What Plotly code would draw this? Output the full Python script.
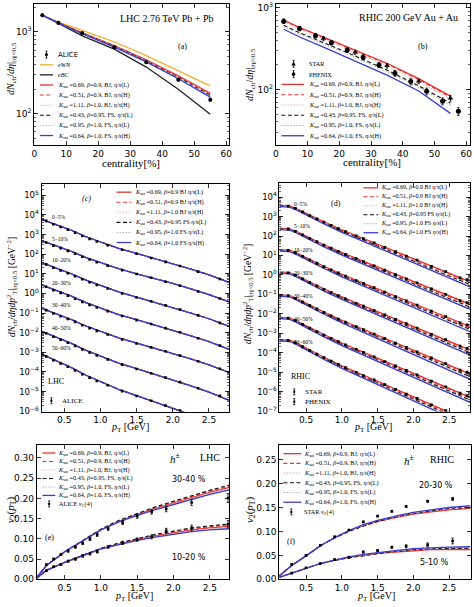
import numpy as np
import plotly.graph_objects as go

W, H = 474, 607
SERIF = "Liberation Serif"
SANS = "DejaVu Sans"

# ====================== DATA ======================
# ---- (a) LHC 2.76 TeV Pb+Pb, dNch/deta vs centrality ----
cent_lines = [2.5, 7.5, 15, 25, 35, 45, 55]
alice_cent = [2.5, 7.5, 15, 25, 35, 45, 55]
alice_dndeta = [1601, 1294, 966, 649, 426, 261, 149]
alice_dndeta_err = [60, 49, 37, 23, 15, 9, 6]
lhc_eWN = [1610, 1320, 1045, 758, 513, 339, 219]
lhc_eBC = [1610, 1270, 895, 617, 372, 200, 99]
lhc_mult_M1 = [1610, 1300, 975, 680, 455, 290, 178]
lhc_mult_M2 = [1610, 1300, 970, 675, 450, 287, 175]
lhc_mult_M3 = [1600, 1290, 965, 670, 445, 282, 172]
lhc_mult_M4 = [1600, 1290, 960, 665, 440, 278, 168]
lhc_mult_M5 = [1600, 1285, 955, 660, 437, 275, 165]
lhc_mult_M6 = [1595, 1280, 950, 652, 430, 268, 160]

# ---- (b) RHIC 200 GeV Au+Au ----
star_cent = [2.5, 7.5, 15, 25, 35, 45, 55]
star_dndeta = [691, 558, 421, 287, 195, 126, 78]
star_err = [40, 33, 25, 17, 12, 8, 6]
phenix_cent = [2.5, 7.5, 12.5, 17.5, 22.5, 27.5, 32.5, 37.5, 42.5, 47.5, 52.5, 57.5]
phenix_dndeta = [687, 560, 456, 375, 305, 248, 200, 158, 125, 95, 72, 54]
phenix_err = [37, 32, 27, 24, 21, 18, 15, 13, 11, 9, 7, 6]
rhic_mult_M1 = [708, 575, 440, 305, 210, 136, 83]
rhic_mult_M2 = [700, 568, 434, 300, 206, 133, 80]
rhic_mult_M3 = [680, 548, 418, 288, 196, 126, 76]
rhic_mult_M4 = [611, 495, 375, 258, 173, 111, 68]
rhic_mult_M5 = [590, 478, 362, 248, 166, 106, 64]
rhic_mult_M6 = [547, 440, 330, 225, 150, 96, 51]

# ---- tick labels ----
mult_tickvals = [100, 1000]
mult_ticktext = ["10<sup>2</sup>", "10<sup>3</sup>"]
lhc_spec_exponents = [5, 4, 3, 2, 1, 0, -1, -2, -3, -4, -5, -6]
rhic_spec_exponents = [4, 3, 2, 1, 0, -1, -2, -3, -4, -5, -6, -7]

# ---- (c) LHC pT spectra (log10 values) ----
centrality_labels = ["0\u22125%", "5\u221210%", "10\u221220%", "20\u221230%", "30\u221240%", "40\u221250%", "50\u221260%"]
lhc_spec_pt = [0.19, 0.3, 0.4, 0.5, 0.6, 0.8, 1.0, 1.25, 1.5, 1.75, 2.0, 2.25, 2.5, 2.78]
lhc_spec_0_5 = [3.78, 3.64, 3.49, 3.36, 3.22, 2.89, 2.62, 2.30, 2.04, 1.78, 1.53, 1.24, 0.95, 0.56]
lhc_spec_5_10 = [2.69, 2.55, 2.41, 2.28, 2.14, 1.83, 1.57, 1.26, 1.00, 0.76, 0.51, 0.23, -0.06, -0.43]
lhc_spec_10_20 = [1.57, 1.42, 1.28, 1.15, 1.00, 0.68, 0.40, 0.08, -0.19, -0.45, -0.71, -1.00, -1.29, -1.68]
lhc_spec_20_30 = [0.43, 0.28, 0.14, 0.00, -0.14, -0.47, -0.75, -1.08, -1.34, -1.60, -1.87, -2.16, -2.46, -2.85]
lhc_spec_30_40 = [-0.76, -0.91, -1.05, -1.19, -1.33, -1.66, -1.94, -2.26, -2.53, -2.79, -3.05, -3.34, -3.64, -4.03]
lhc_spec_40_50 = [-1.93, -2.09, -2.25, -2.39, -2.55, -2.90, -3.20, -3.55, -3.83, -4.11, -4.39, -4.71, -5.03, -5.45]
lhc_spec_50_60 = [-3.10, -3.28, -3.45, -3.61, -3.78, -4.17, -4.50, -4.89, -5.21, -5.52, -5.83, -6.18, -6.53, -7.00]

alice_spec_pt = [0.25, 0.35, 0.45, 0.55, 0.65, 0.75, 0.85, 0.95, 1.1, 1.3, 1.5, 1.7, 1.9, 2.1, 2.35, 2.65]
alice_spec_0_5 = [3.70, 3.53, 3.39, 3.25, 3.10, 2.93, 2.78, 2.65, 2.46, 2.23, 2.02, 1.81, 1.61, 1.40, 1.11, 0.74]
alice_spec_5_10 = [2.60, 2.44, 2.31, 2.17, 2.03, 1.87, 1.73, 1.59, 1.42, 1.19, 0.99, 0.80, 0.60, 0.39, 0.10, -0.26]
alice_spec_10_20 = [1.48, 1.31, 1.17, 1.03, 0.88, 0.72, 0.57, 0.43, 0.25, 0.00, -0.21, -0.40, -0.61, -0.82, -1.12, -1.50]
alice_spec_20_30 = [0.34, 0.17, 0.03, -0.11, -0.27, -0.43, -0.58, -0.72, -0.90, -1.15, -1.36, -1.56, -1.77, -1.98, -2.28, -2.66]
alice_spec_30_40 = [-0.85, -1.02, -1.16, -1.30, -1.45, -1.62, -1.77, -1.91, -2.09, -2.34, -2.55, -2.75, -2.95, -3.17, -3.46, -3.84]
alice_spec_40_50 = [-2.03, -2.21, -2.36, -2.51, -2.67, -2.85, -3.01, -3.16, -3.36, -3.63, -3.85, -4.07, -4.29, -4.52, -4.83, -5.22]
alice_spec_50_60 = [-3.21, -3.40, -3.57, -3.74, -3.92, -4.12, -4.29, -4.46, -4.68, -4.98, -5.23, -5.47, -5.72, -5.97, -6.32, -6.78]

# ---- (d) RHIC pT spectra (log10 values, K_sat=0.69 BJ curve; other models as read-off shifts) ----
rhic_spec_pt = [0.13, 0.2, 0.27, 0.35, 0.5, 0.75, 1.0, 1.25, 1.5, 1.75, 2.0, 2.25, 2.5, 2.79]
rhic_spec_0_5 = [3.58, 3.58, 3.55, 3.44, 3.16, 2.73, 2.32, 1.95, 1.58, 1.21, 0.84, 0.46, 0.08, -0.34]
rhic_spec_5_10 = [2.40, 2.40, 2.37, 2.26, 1.98, 1.55, 1.15, 0.78, 0.41, 0.04, -0.33, -0.70, -1.08, -1.50]
rhic_spec_10_20 = [1.30, 1.30, 1.27, 1.16, 0.88, 0.44, 0.03, -0.34, -0.72, -1.09, -1.46, -1.84, -2.23, -2.65]
rhic_spec_20_30 = [0.15, 0.15, 0.12, 0.01, -0.28, -0.72, -1.13, -1.51, -1.89, -2.27, -2.65, -3.03, -3.42, -3.85]
rhic_spec_30_40 = [-1.03, -1.03, -1.06, -1.18, -1.46, -1.91, -2.33, -2.72, -3.10, -3.48, -3.86, -4.25, -4.65, -5.08]
rhic_spec_40_50 = [-2.18, -2.18, -2.21, -2.33, -2.62, -3.07, -3.50, -3.89, -4.27, -4.66, -5.05, -5.44, -5.84, -6.28]
rhic_spec_50_60 = [-3.32, -3.32, -3.35, -3.47, -3.77, -4.23, -4.67, -5.07, -5.46, -5.86, -6.26, -6.66, -7.07, -7.52]
rhic_shift_M1 = [0.00] * 14
rhic_shift_M2 = [-0.01, -0.01, -0.01, -0.01, -0.02, -0.02, -0.03, -0.03, -0.04, -0.04, -0.05, -0.05, -0.06, -0.06]
rhic_shift_M3 = [-0.02, -0.02, -0.02, -0.03, -0.03, -0.04, -0.05, -0.06, -0.07, -0.08, -0.09, -0.10, -0.11, -0.12]
rhic_shift_M4 = [-0.03, -0.03, -0.03, -0.04, -0.05, -0.06, -0.07, -0.09, -0.10, -0.11, -0.12, -0.13, -0.14, -0.15]
rhic_shift_M5 = [-0.05, -0.05, -0.05, -0.06, -0.07, -0.08, -0.10, -0.12, -0.14, -0.16, -0.18, -0.19, -0.20, -0.22]
rhic_shift_M6 = [-0.07, -0.07, -0.07, -0.08, -0.09, -0.11, -0.13, -0.15, -0.17, -0.19, -0.21, -0.23, -0.25, -0.27]

star_spec_pt = [0.25, 0.45, 0.65, 0.85, 1.05, 1.3, 1.6, 1.9, 2.25, 2.65]
star_spec_0_5 = [3.54, 3.24, 2.88, 2.55, 2.23, 1.86, 1.41, 0.97, 0.44, -0.15]
star_spec_5_10 = [2.36, 2.06, 1.71, 1.37, 1.05, 0.68, 0.24, -0.20, -0.72, -1.32]
star_spec_10_20 = [1.26, 0.95, 0.60, 0.26, -0.06, -0.44, -0.88, -1.33, -1.86, -2.46]
star_spec_20_30 = [0.11, -0.20, -0.56, -0.91, -1.23, -1.61, -2.06, -2.51, -3.05, -3.66]
star_spec_30_40 = [-1.07, -1.39, -1.75, -2.10, -2.43, -2.81, -3.27, -3.73, -4.27, -4.89]
star_spec_40_50 = [-2.22, -2.54, -2.91, -3.26, -3.59, -3.98, -4.45, -4.91, -5.46, -6.08]
star_spec_50_60 = [-3.36, -3.69, -4.07, -4.43, -4.77, -5.17, -5.64, -6.12, -6.68, -7.32]
phenix_spec_pt = [0.35, 0.55, 0.75, 0.95, 1.2, 1.45, 1.75, 2.05, 2.45, 2.75]
phenix_spec_0_5 = [3.42, 3.05, 2.71, 2.38, 2.00, 1.64, 1.19, 0.76, 0.17, -0.24]
phenix_spec_5_10 = [2.24, 1.88, 1.53, 1.21, 0.83, 0.47, 0.02, -0.41, -1.00, -1.42]
phenix_spec_10_20 = [1.14, 0.77, 0.42, 0.10, -0.29, -0.66, -1.11, -1.55, -2.14, -2.57]
phenix_spec_20_30 = [-0.01, -0.39, -0.74, -1.07, -1.46, -1.83, -2.29, -2.74, -3.33, -3.77]
phenix_spec_30_40 = [-1.20, -1.57, -1.93, -2.27, -2.66, -3.04, -3.50, -3.96, -4.56, -5.00]
phenix_spec_40_50 = [-2.35, -2.73, -3.09, -3.43, -3.83, -4.21, -4.68, -5.14, -5.75, -6.20]
phenix_spec_50_60 = [-3.49, -3.88, -4.25, -4.60, -5.01, -5.40, -5.88, -6.35, -6.98, -7.44]

# ---- (e) LHC v2(pT) ----
lhc_v2_pt = [0.12, 0.25, 0.5, 0.75, 1.0, 1.25, 1.5, 1.75, 2.0, 2.25, 2.5, 2.77]
lhc_v2_30_40 = [0.005, 0.034, 0.067, 0.095, 0.122, 0.143, 0.160, 0.175, 0.189, 0.202, 0.215, 0.227]
lhc_v2_10_20 = [0.003, 0.022, 0.041, 0.058, 0.075, 0.087, 0.098, 0.107, 0.115, 0.122, 0.127, 0.131]
lhc_v2_shift_M1 = [0.0] * 12
lhc_v2_shift_M2 = [0, 0, 0, 0, 0, 0.001, 0.001, 0.001, 0.002, 0.002, 0.003, 0.003]
lhc_v2_shift_M3 = [0, 0, 0, 0, 0, 0, -0.001, -0.001, -0.002, -0.002, -0.002, -0.003]
lhc_v2_shift_M4 = [0, 0, 0.001, 0.002, 0.002, 0.003, 0.003, 0.004, 0.004, 0.005, 0.005, 0.006]
lhc_v2_shift_M5 = [0, 0, 0, 0, -0.001, -0.001, -0.002, -0.002, -0.003, -0.003, -0.004, -0.004]
lhc_v2_shift_M6 = [0, 0, 0.001, 0.001, 0, -0.001, -0.002, -0.003, -0.004, -0.004, -0.005, -0.006]
alice_v2_pt = [0.25, 0.35, 0.45, 0.55, 0.65, 0.75, 0.85, 0.95, 1.1, 1.3, 1.5, 1.7, 1.9, 2.25, 2.75]
alice_v2_30_40 = [0.036, 0.050, 0.061, 0.070, 0.080, 0.089, 0.100, 0.110, 0.125, 0.140, 0.156, 0.167, 0.174, 0.190, 0.201]
alice_v2_30_40_err = [0.002, 0.002, 0.002, 0.003, 0.003, 0.003, 0.004, 0.004, 0.004, 0.005, 0.005, 0.006, 0.007, 0.008, 0.011]
alice_v2_10_20 = [0.021, 0.031, 0.037, 0.045, 0.050, 0.058, 0.063, 0.068, 0.080, 0.090, 0.098, 0.105, 0.120, 0.127, 0.136]
alice_v2_10_20_err = [0.002, 0.002, 0.002, 0.002, 0.003, 0.003, 0.003, 0.003, 0.003, 0.004, 0.004, 0.005, 0.006, 0.007, 0.009]

# ---- (f) RHIC v2(pT) ----
rhic_v2_pt = [0.124, 0.3, 0.5, 0.7, 0.9, 1.1, 1.3, 1.5, 1.75, 2.0, 2.25, 2.5, 2.8]
rhic_v2_20_30 = [0.007, 0.029, 0.049, 0.070, 0.087, 0.101, 0.112, 0.121, 0.129, 0.136, 0.141, 0.145, 0.148]
rhic_v2_5_10 = [0.004, 0.013, 0.023, 0.033, 0.040, 0.046, 0.050, 0.054, 0.057, 0.060, 0.062, 0.062, 0.062]
rhic_v2_shift_M1 = [0.0] * 13
rhic_v2_shift_M2 = [0, 0, 0, 0, 0, 0, 0, 0, 0.001, 0.001, 0.001, 0.001, 0.001]
rhic_v2_shift_M3 = [0, 0, 0, 0, 0, 0, 0, 0.001, 0.001, 0.002, 0.002, 0.002, 0.003]
rhic_v2_shift_M4 = [0, 0, 0, 0, -0.001, -0.001, -0.001, 0, 0.001, 0.002, 0.002, 0.003, 0.003]
rhic_v2_shift_M5 = [0, 0, 0, 0, 0, 0.001, 0.001, 0.002, 0.002, 0.003, 0.003, 0.004, 0.005]
rhic_v2_shift_M6 = [0, 0, 0, 0, 0, 0.001, 0.002, 0.002, 0.003, 0.004, 0.004, 0.005, 0.006]
star_v2_pt = [0.3, 0.5, 0.7, 0.9, 1.1, 1.3, 1.5, 1.7, 1.9, 2.2, 2.55]
star_v2_20_30 = [0.031, 0.050, 0.071, 0.089, 0.103, 0.120, 0.132, 0.142, 0.152, 0.163, 0.168]
star_v2_20_30_err = [0.001, 0.001, 0.001, 0.001, 0.001, 0.001, 0.001, 0.002, 0.002, 0.002, 0.003]
star_v2_5_10 = [0.013, 0.024, 0.033, 0.041, 0.046, 0.057, 0.060, 0.067, 0.069, 0.072, 0.080]
star_v2_5_10_err = [0.001, 0.001, 0.001, 0.001, 0.002, 0.002, 0.002, 0.002, 0.003, 0.004, 0.006]

# ---- models ----
model_ksat = ["0.69", "0.51", "1.11", "0.43", "0.95", "0.64"]
model_beta = ["0.9", "0.9", "1.0", "0.95", "1.0", "1.0"]
model_init = ["BJ", "BJ", "BJ", "FS", "FS", "FS"]
model_etas = ["L", "H", "H", "L", "L", "H"]

# ====================== STYLE ======================
model_color = ["#e3342f", "#e3342f", "#f3b0b0", "#111111", "#b4b4b4", "#3b3bd0"]
model_dash = ["solid", "4px,2.5px", "1.5px,1.5px", "4px,2.5px", "1.5px,1.5px", "solid"]
model_width = [1.3, 1.1, 1.1, 1.1, 1.1, 1.3]

BOX = {  # left, right, top, bottom in pixels
    "a": (31.7, 228.7, 1.0, 144.0),
    "b": (276.3, 472.5, 1.0, 144.0),
    "c": (39.0, 229.0, 183.0, 414.0),
    "d": (280.0, 473.0, 182.0, 414.0),
    "e": (34.3, 229.3, 448.3, 584.0),
    "f": (279.7, 473.5, 448.3, 584.0),
}
AXID = {"a": ("x", "y"), "b": ("x2", "y2"), "c": ("x3", "y3"),
        "d": ("x4", "y4"), "e": ("x5", "y5"), "f": ("x6", "y6")}


def px(x):
    return x / W


def py(y):
    return 1 - y / H


fig = go.Figure()
shapes = []
annots = []


def join_segments(xs_list, ys_list):
    """Concatenate several curves into one trace, separated by gaps."""
    X, Y = [], []
    for xs, ys in zip(xs_list, ys_list):
        X.extend(list(xs) + [None])
        Y.extend(list(ys) + [None])
    return X, Y


def line_trace(panel, x, y, color, dash, width):
    xa, ya = AXID[panel]
    fig.add_trace(go.Scatter(x=x, y=y, mode="lines", xaxis=xa, yaxis=ya, connectgaps=False,
                             line=dict(color=color, dash=dash, width=width),
                             showlegend=False, hoverinfo="skip"))


def point_trace(panel, x, y, err=None, symbol="circle", size=4):
    xa, ya = AXID[panel]
    kw = {}
    if err is not None:
        kw["error_y"] = dict(type="data", array=err, color="black", thickness=0.8, width=1.2)
    fig.add_trace(go.Scatter(x=x, y=y, mode="markers", xaxis=xa, yaxis=ya,
                             marker=dict(color="black", symbol=symbol, size=size, line=dict(width=0)),
                             showlegend=False, hoverinfo="skip", **kw))


def text(x, y, s, size, family=SERIF, xanchor="left", yanchor="middle", angle=0):
    annots.append(dict(x=px(x), y=py(y), xref="paper", yref="paper", text=s, showarrow=False,
                       font=dict(family=family, size=size, color="black"),
                       xanchor=xanchor, yanchor=yanchor, textangle=angle, borderpad=0))


def leg_line(x0, x1, y, color, dash, width):
    shapes.append(dict(type="line", xref="paper", yref="paper", x0=px(x0), x1=px(x1),
                       y0=py(y), y1=py(y), line=dict(color=color, dash=dash, width=width)))


def leg_errpoint(cx, cy, marker="circle", r=1.6, bar=3.5):
    shapes.append(dict(type="line", xref="paper", yref="paper", x0=px(cx), x1=px(cx),
                       y0=py(cy - bar), y1=py(cy + bar), line=dict(color="black", width=0.8)))
    for yy in (cy - bar, cy + bar):
        shapes.append(dict(type="line", xref="paper", yref="paper", x0=px(cx - 1), x1=px(cx + 1),
                           y0=py(yy), y1=py(yy), line=dict(color="black", width=0.8)))
    if marker == "circle":
        shapes.append(dict(type="circle", xref="paper", yref="paper", x0=px(cx - r), x1=px(cx + r),
                           y0=py(cy + r), y1=py(cy - r), fillcolor="black", line=dict(width=0)))
    elif marker == "triangle":
        path = "M %f,%f L %f,%f L %f,%f Z" % (px(cx), py(cy - 2.3), px(cx - 2.2), py(cy + 1.6), px(cx + 2.2), py(cy + 1.6))
        shapes.append(dict(type="path", xref="paper", yref="paper", path=path, fillcolor="black", line=dict(width=0)))
    elif marker == "square":
        shapes.append(dict(type="rect", xref="paper", yref="paper", x0=px(cx - 1), x1=px(cx + 1),
                           y0=py(cy + 1), y1=py(cy - 1), fillcolor="black", line=dict(width=0)))


def mlabel(i, commas=True):
    if commas:
        return ("<i>K</i><sub>sat</sub> =%s, <i>\u03b2</i>=%s, %s, <i>\u03b7/s</i>(%s)"
                % (model_ksat[i], model_beta[i], model_init[i], model_etas[i]))
    return ("<i>K</i><sub>sat</sub> =%s, <i>\u03b2</i>=%s %s <i>\u03b7/s</i>(%s)"
            % (model_ksat[i], model_beta[i], model_init[i], model_etas[i]))


def pow_text(n):
    return "10<sup>%s</sup>" % (str(n) if n >= 0 else "\u2212" + str(-n))


# ====================== (a) ======================
lhc_mult_models = [lhc_mult_M1, lhc_mult_M2, lhc_mult_M3, lhc_mult_M4, lhc_mult_M5, lhc_mult_M6]
line_trace("a", cent_lines, lhc_eWN, "#f2b134", "solid", 1.3)
line_trace("a", cent_lines, lhc_eBC, "#222222", "solid", 1.3)
for i, ys in enumerate(lhc_mult_models):
    line_trace("a", cent_lines, ys, model_color[i], model_dash[i], model_width[i])
point_trace("a", alice_cent, alice_dndeta, alice_dndeta_err, "circle", 4)

# ====================== (b) ======================
rhic_mult_models = [rhic_mult_M1, rhic_mult_M2, rhic_mult_M3, rhic_mult_M4, rhic_mult_M5, rhic_mult_M6]
for i, ys in enumerate(rhic_mult_models):
    line_trace("b", cent_lines, ys, model_color[i], model_dash[i], model_width[i])
point_trace("b", star_cent, star_dndeta, star_err, "triangle-up", 5)
point_trace("b", phenix_cent, phenix_dndeta, phenix_err, "circle", 5)

# ====================== (c) ======================
lhc_specs = [lhc_spec_0_5, lhc_spec_5_10, lhc_spec_10_20, lhc_spec_20_30, lhc_spec_30_40, lhc_spec_40_50, lhc_spec_50_60]
alice_specs = [alice_spec_0_5, alice_spec_5_10, alice_spec_10_20, alice_spec_20_30, alice_spec_30_40, alice_spec_40_50, alice_spec_50_60]
for i in range(6):
    X, Y = join_segments([lhc_spec_pt] * 7, [np.power(10.0, s) for s in lhc_specs])
    line_trace("c", X, Y, model_color[i], model_dash[i], model_width[i])
X, Y = join_segments([alice_spec_pt] * 7, [np.power(10.0, s) for s in alice_specs])
point_trace("c", X, Y, None, "square", 2.6)

# ====================== (d) ======================
rhic_specs = [rhic_spec_0_5, rhic_spec_5_10, rhic_spec_10_20, rhic_spec_20_30, rhic_spec_30_40, rhic_spec_40_50, rhic_spec_50_60]
rhic_shifts = [rhic_shift_M1, rhic_shift_M2, rhic_shift_M3, rhic_shift_M4, rhic_shift_M5, rhic_shift_M6]
star_specs = [star_spec_0_5, star_spec_5_10, star_spec_10_20, star_spec_20_30, star_spec_30_40, star_spec_40_50, star_spec_50_60]
phenix_specs = [phenix_spec_0_5, phenix_spec_5_10, phenix_spec_10_20, phenix_spec_20_30, phenix_spec_30_40, phenix_spec_40_50, phenix_spec_50_60]
for i in range(6):
    X, Y = join_segments([rhic_spec_pt] * 7,
                         [np.power(10.0, np.array(s) + np.array(rhic_shifts[i])) for s in rhic_specs])
    line_trace("d", X, Y, model_color[i], model_dash[i], model_width[i])
X, Y = join_segments([star_spec_pt] * 7, [np.power(10.0, s) for s in star_specs])
point_trace("d", X, Y, None, "square", 2.8)
X, Y = join_segments([phenix_spec_pt] * 7, [np.power(10.0, s) for s in phenix_specs])
point_trace("d", X, Y, None, "square", 2.8)

# ====================== (e) ======================
lhc_v2_shifts = [lhc_v2_shift_M1, lhc_v2_shift_M2, lhc_v2_shift_M3, lhc_v2_shift_M4, lhc_v2_shift_M5, lhc_v2_shift_M6]
for i in range(6):
    X, Y = join_segments([lhc_v2_pt] * 2,
                         [np.array(b) + np.array(lhc_v2_shifts[i]) for b in (lhc_v2_30_40, lhc_v2_10_20)])
    line_trace("e", X, Y, model_color[i], model_dash[i], model_width[i])
point_trace("e", alice_v2_pt + alice_v2_pt, alice_v2_30_40 + alice_v2_10_20,
            alice_v2_30_40_err + alice_v2_10_20_err, "square", 2.6)

# ====================== (f) ======================
rhic_v2_shifts = [rhic_v2_shift_M1, rhic_v2_shift_M2, rhic_v2_shift_M3, rhic_v2_shift_M4, rhic_v2_shift_M5, rhic_v2_shift_M6]
for i in range(6):
    X, Y = join_segments([rhic_v2_pt] * 2,
                         [np.array(b) + np.array(rhic_v2_shifts[i]) for b in (rhic_v2_20_30, rhic_v2_5_10)])
    line_trace("f", X, Y, model_color[i], model_dash[i], model_width[i])
point_trace("f", star_v2_pt + star_v2_pt, star_v2_20_30 + star_v2_5_10,
            star_v2_20_30_err + star_v2_5_10_err, "square", 2.6)

# ====================== legends & labels ======================
LF = 6.2
# (a)
ya = [52.3, 62.6, 72.8, 83.1, 93.3, 103.6, 113.8, 124.1, 134.3]
leg_errpoint(44.0, ya[0], "circle")
text(55, ya[0], "ALICE", 7, SANS)
leg_line(37.3, 50.7, ya[1], "#f2b134", "solid", 1.3)
text(55, ya[1], "<i>eWN</i>", LF)
leg_line(37.3, 50.7, ya[2], "#222222", "solid", 1.3)
text(55, ya[2], "<i>eBC</i>", LF)
for i in range(6):
    leg_line(37.3, 50.7, ya[3 + i], model_color[i], model_dash[i], model_width[i])
    text(55, ya[3 + i], mlabel(i), LF)
text(165.5, 15.7, "LHC 2.76 TeV Pb + Pb", 10, SERIF, "center")
text(181.7, 44.3, "(a)", 8, SERIF, "center")

# (b)
yb = [61.7, 72.1, 82.5, 92.9, 103.3, 113.7, 124.1, 134.5]
leg_errpoint(294.3, yb[0], "triangle")
text(309, yb[0], "STAR", LF)
leg_errpoint(294.3, yb[1], "circle", r=1.8)
text(309, yb[1], "PHENIX", LF)
for i in range(6):
    leg_line(282, 305, yb[2 + i], model_color[i], model_dash[i], model_width[i])
    text(309, yb[2 + i], mlabel(i), LF)
text(410.5, 15.0, "RHIC 200 GeV Au + Au", 10, SERIF, "center")
text(425, 44.3, "(b)", 8, SERIF, "center")

# (c)
yc = [191.7, 201.9, 212.1, 222.3, 232.5, 242.7]
for i in range(6):
    leg_line(115, 130, yc[i], model_color[i], model_dash[i], model_width[i])
    text(133, yc[i], mlabel(i, False), LF)
text(85, 198.3, "<i>(c)</i>", 8, SERIF, "center")
for lab, yy in zip(centrality_labels, [217.3, 239.0, 260.0, 283.3, 306.0, 329.3, 350.0]):
    text(49, yy, lab, 5.5)
text(45, 384, "LHC", 8)
leg_errpoint(49, 403, "square", bar=3)
text(59, 403, "ALICE", 7)

# (d)
yd = [187.3, 196.4, 205.5, 214.6, 223.7, 232.8]
for i in range(6):
    leg_line(365, 380, yd[i], model_color[i], model_dash[i], model_width[i])
    text(382, yd[i], mlabel(i, False), 6.0)
text(337, 203.3, "(d)", 8, SERIF, "center")
for lab, yy in zip(centrality_labels, [204.0, 226.0, 250.0, 273.3, 296.7, 320.7, 343.3]):
    text(294, yy, lab, 5.5)
text(291, 378, "RHIC", 8)
leg_errpoint(295, 394, "square", bar=3)
text(305, 394, "STAR", 7)
leg_errpoint(295, 404, "square", bar=3)
text(305, 404, "PHENIX", 7)

# (e)
ye = [456.0, 464.6, 473.2, 481.8, 490.4, 499.0, 507.6]
for i in range(6):
    leg_line(40, 53, ye[i], model_color[i], model_dash[i], model_width[i])
    text(55, ye[i], mlabel(i), LF)
leg_errpoint(46.7, ye[6], "square", bar=3)
text(56, ye[6], "ALICE <i>v</i><sub>2</sub>{4}", LF)
text(174, 461, "<i>h</i><sup>\u00b1</sup>", 11, SERIF, "center")
text(210, 461, "LHC", 10, SERIF, "center")
text(188, 483, "30-40 %", 8, SANS, "center")
text(188, 562, "10-20 %", 8, SANS, "center")
text(47, 542, "(e)", 8, SERIF, "center")

# (f)
yf = [456.7, 466.5, 476.4, 486.2, 496.0, 505.9, 515.7]
for i in range(6):
    leg_line(284, 302, yf[i], model_color[i], model_dash[i], model_width[i])
    text(304, yf[i], mlabel(i), LF)
leg_errpoint(292, yf[6], "square", bar=3)
text(304, yf[6], "STAR <i>v</i><sub>2</sub>{4}", LF)
text(411, 463, "<i>h</i><sup>\u00b1</sup>", 11, SERIF, "center")
text(445, 463, "RHIC", 10, SERIF, "center")
text(439, 489, "20-30 %", 8, SANS, "center")
text(437, 567, "5-10 %", 8, SANS, "center")
text(292, 546, "(f)", 8, SERIF, "center")

# axis titles
ytitle_mult = "<i>dN</i><sub>ch</sub>/<i>d\u03b7</i>|<sub>|\u03b7|&lt;0.5</sub>"
ytitle_spec = "<i>dN</i><sub>ch</sub>/<i>d\u03b7dp</i><sup>2</sup><sub>T</sub>|<sub>|\u03b7|&lt;0.5</sub> [GeV<sup>\u22122</sup>]"
ytitle_v2 = "<i>v</i><sub>2</sub>(<i>p</i><sub>T</sub>)"
xtitle_pt = "<i>p</i><sub>T</sub> [GeV]"
text(8, 66, ytitle_mult, 10, SERIF, "center", "middle", -90)
text(250, 72, ytitle_mult, 10, SERIF, "center", "middle", -90)
text(8, 288, ytitle_spec, 9.5, SERIF, "center", "middle", -90)
text(247, 295, ytitle_spec, 9.5, SERIF, "center", "middle", -90)
text(8, 513, ytitle_v2, 11, SERIF, "center", "middle", -90)
text(250, 513, ytitle_v2, 11, SERIF, "center", "middle", -90)
text(130, 162, "centrality[%]", 11, SERIF, "center")
text(374, 161, "centrality[%]", 11, SERIF, "center")
text(129, 430, xtitle_pt, 10, SERIF, "center")
text(375, 430, xtitle_pt, 10, SERIF, "center")
text(133, 601, xtitle_pt, 10, SERIF, "center")
text(378, 601, xtitle_pt, 10, SERIF, "center")

# ====================== axes ======================
common = dict(showline=True, linecolor="black", linewidth=1, mirror="allticks", ticks="inside",
              ticklen=4, tickwidth=0.8, tickcolor="black", showgrid=False, zeroline=False,
              ticklabeloverflow="allow",
              tickfont=dict(family=SANS, size=9, color="black"))
minor_log = dict(ticks="inside", ticklen=2, tickwidth=0.6, tickcolor="black", dtick="D1", showgrid=False)

xr = {"a": [0, 60.8], "b": [0, 61.0], "c": [0.186, 2.778], "d": [0.128, 2.79], "e": [0.119, 2.77], "f": [0.124, 2.80]}
yr = {"a": [1.618, 3.341], "b": [1.319, 3.048], "c": [-6.02, 5.60], "d": [-7.02, 4.744], "e": [0, 0.331], "f": [0, 0.2797]}

layout = {}
for k, (xa, ya_) in AXID.items():
    l, r, t, b = BOX[k]
    xn = "xaxis" + xa[1:]
    yn = "yaxis" + ya_[1:]
    xd = dict(common, domain=[px(l), px(r)], anchor=ya_, range=xr[k])
    yd_ = dict(common, domain=[py(b), py(t)], anchor=xa, range=yr[k])
    if k in ("a", "b"):
        xd.update(dtick=10, tick0=0)
        yd_.update(type="log", tickmode="array", tickvals=mult_tickvals, ticktext=mult_ticktext, minor=minor_log)
    elif k in ("c", "d"):
        exps = lhc_spec_exponents if k == "c" else rhic_spec_exponents
        xd.update(dtick=0.5, tick0=0, tickformat=".1f")
        yd_.update(type="log", tickmode="array", tickvals=[10.0 ** e for e in exps],
                   ticktext=[pow_text(e) for e in exps], minor=minor_log, tickfont=dict(family=SANS, size=8.5, color="black"))
    else:
        xd.update(dtick=0.5, tick0=0, tickformat=".1f")
        yd_.update(dtick=0.05, tick0=0, tickformat=".2f")
    layout[xn] = xd
    layout[yn] = yd_

fig.update_layout(width=W, height=H, margin=dict(l=0, r=0, t=0, b=0), autosize=False,
                  paper_bgcolor="white", plot_bgcolor="white", showlegend=False,
                  shapes=shapes, annotations=annots, **layout)

fig.write_html("out.html", config={"displayModeBar": False, "staticPlot": True},
               post_script="document.body.style.margin='0px';document.body.style.overflow='hidden';")
